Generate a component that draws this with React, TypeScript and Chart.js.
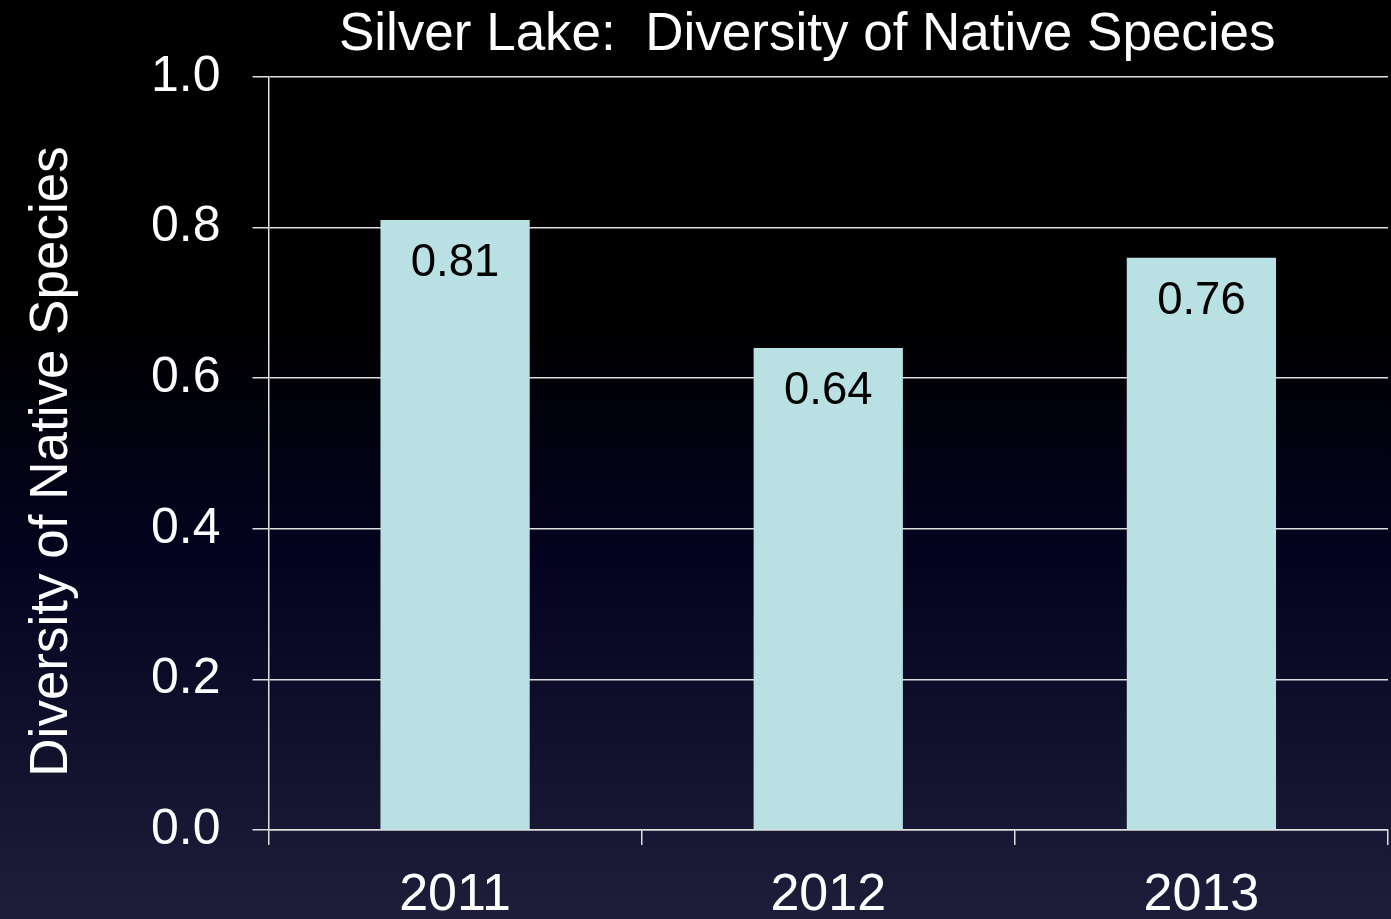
import React, { useEffect, useRef } from "react";
import { Chart, registerables } from "chart.js";

Chart.register(...registerables);

const titleText = "Silver Lake:  Diversity of Native Species";
const yAxisTitle = "Diversity of Native Species";
const categories = ["2011", "2012", "2013"];
const values = [0.81, 0.64, 0.76];
const valueLabels = ["0.81", "0.64", "0.76"];

const FONT = "'Liberation Sans', Arial, sans-serif";

const bgPlugin = {
  id: "bgGradient",
  beforeDraw(chart: any) {
    const { ctx, width, height } = chart;
    const g = ctx.createLinearGradient(0, 0, 0, height);
    g.addColorStop(0, "#000000");
    g.addColorStop(0.35, "#000000");
    g.addColorStop(0.6, "#03031f");
    g.addColorStop(1, "#1e1d3a");
    ctx.save();
    ctx.fillStyle = g;
    ctx.fillRect(0, 0, width, height);
    ctx.restore();
  },
};

const titlePlugin = {
  id: "customTitle",
  afterDraw(chart: any) {
    const { ctx, chartArea } = chart;
    ctx.save();
    ctx.font = `53px ${FONT}`;
    ctx.fillStyle = "#ffffff";
    ctx.textAlign = "center";
    ctx.textBaseline = "alphabetic";
    ctx.fillText(titleText, (chartArea.left + chartArea.right) / 2 - 21, 50);
    // y axis title
    ctx.translate(67, (chartArea.top + chartArea.bottom) / 2 + 8);
    ctx.rotate(-Math.PI / 2);
    ctx.fillText(yAxisTitle, 0, 0);
    ctx.restore();
  },
};

const labelPlugin = {
  id: "valueLabels",
  afterDatasetsDraw(chart: any) {
    const { ctx } = chart;
    const meta = chart.getDatasetMeta(0);
    ctx.save();
    ctx.font = `45.5px ${FONT}`;
    ctx.fillStyle = "#000000";
    ctx.textAlign = "center";
    ctx.textBaseline = "top";
    meta.data.forEach((bar: any, i: number) => {
      ctx.fillText(valueLabels[i], bar.x, bar.y + 21);
    });
    ctx.restore();
  },
};

export default function App() {
  const ref = useRef<HTMLCanvasElement | null>(null);

  useEffect(() => {
    document.body.style.margin = "0";
    document.body.style.background = "#000";
    const canvas = ref.current!;
    const chart = new Chart(canvas, {
      type: "bar",
      data: {
        labels: categories,
        datasets: [
          {
            data: values,
            backgroundColor: "#b9e0e3",
            borderWidth: 0,
            barPercentage: 0.4,
            categoryPercentage: 1,
          },
        ],
      },
      options: {
        animation: false,
        responsive: false,
        maintainAspectRatio: false,
        layout: { padding: { top: 77, left: 119, right: 3, bottom: -28 } },
        plugins: {
          legend: { display: false },
          tooltip: { enabled: false },
          title: { display: false },
        },
        scales: {
          x: {
            offset: true,
            grid: {
              offset: true,
              drawOnChartArea: false,
              drawTicks: true,
              tickLength: 15,
              color: "#dedede",
              lineWidth: 1.5,
            },
            border: { display: true, color: "#dedede", width: 1.5 },
            ticks: {
              color: "#ffffff",
              font: { family: FONT, size: 52, lineHeight: 1 },
              padding: 25,
            },
          },
          y: {
            min: 0,
            max: 1,
            ticks: {
              stepSize: 0.2,
              color: "#ffffff",
              font: { family: FONT, size: 50 },
              padding: 32,
              callback: (v: any) => Number(v).toFixed(1),
            },
            grid: {
              color: "#dedede",
              lineWidth: 1.5,
              drawTicks: true,
              tickLength: 16,
            },
            border: { display: true, color: "#dedede", width: 1.5 },
          },
        },
      },
      plugins: [bgPlugin, titlePlugin, labelPlugin],
    });
    return () => chart.destroy();
  }, []);

  return (
    <div style={{ width: 1391, height: 919 }}>
      <canvas ref={ref} width={1391} height={919} style={{ display: "block" }} />
    </div>
  );
}
